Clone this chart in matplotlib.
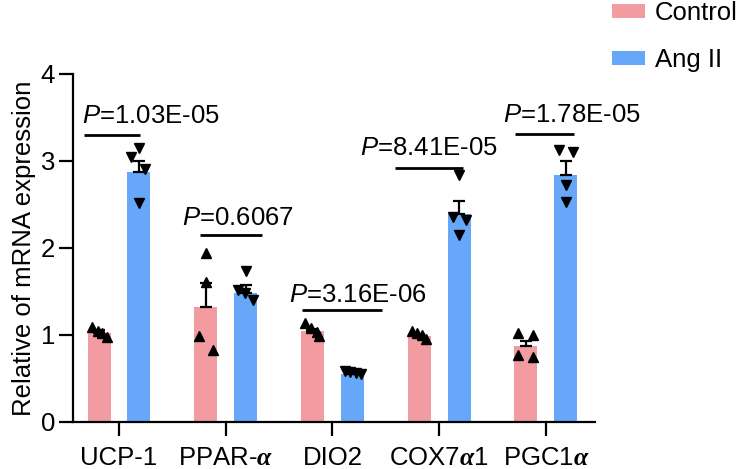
import matplotlib
matplotlib.use("Agg")
import matplotlib.pyplot as plt
from matplotlib.patches import Patch
import numpy as np

plt.rcParams['font.family'] = ['Liberation Sans', 'DejaVu Sans']
plt.rcParams['mathtext.fontset'] = 'custom'
plt.rcParams['mathtext.rm'] = 'Liberation Sans'
plt.rcParams['mathtext.it'] = 'Liberation Sans:italic'
plt.rcParams['mathtext.bf'] = 'Liberation Serif:italic:bold'

# ---------------- data ----------------
genes = ['UCP-1', r'PPAR-$\mathbf{\alpha}$', 'DIO2', r'COX7$\mathbf{\alpha}$1', r'PGC1$\mathbf{\alpha}$']
groups = ['Control', 'Ang II']

control_mean = [1.02, 1.32, 1.04, 0.99, 0.875]
angii_mean = [2.87, 1.48, 0.55, 2.39, 2.84]
control_sem = [0.03, 0.28, 0.03, 0.02, 0.05]
angii_sem = [0.13, 0.09, 0.01, 0.15, 0.16]

control_points = [
    [1.09, 1.04, 1.02, 0.98],
    [1.94, 1.61, 0.99, 0.83],
    [1.13, 1.08, 1.03, 0.99],
    [1.04, 1.02, 1.00, 0.95],
    [1.02, 1.00, 0.77, 0.75],
]
angii_points = [
    [3.15, 3.05, 2.91, 2.52],
    [1.73, 1.52, 1.48, 1.40],
    [0.58, 0.57, 0.56, 0.55],
    [2.84, 2.36, 2.32, 2.15],
    [3.13, 3.10, 2.72, 2.53],
]

p_labels = ['1.03E-05', '0.6067', '3.16E-06', '8.41E-05', '1.78E-05']

# ---------------- styling / layout ----------------
c_ctrl = '#F29CA1'
c_ang = '#66A7FA'
bar_w = 0.215
off = 0.187

# jitter (in data units) of the individual points
ctrl_jit = [[-0.07, -0.01, 0.03, 0.07], [0.0, 0.0, -0.065, 0.065],
            [-0.07, -0.01, 0.04, 0.065], [-0.07, -0.02, 0.025, 0.065],
            [-0.07, 0.065, -0.07, 0.065]]
ang_jit = [[0.0, -0.075, 0.06, 0.0], [0.0, -0.075, -0.01, 0.065],
           [-0.07, -0.02, 0.03, 0.08], [0.0, -0.06, 0.065, 0.0],
           [-0.065, 0.065, 0.0, 0.0]]

# significance annotations: line x-extents, line y, text x, text baseline y
sig_x0 = [-0.325, 0.759, 1.711, 2.585, 3.710]
sig_x1 = [0.197, 1.337, 2.461, 3.222, 4.262]
sig_y = [3.298, 2.148, 1.285, 2.924, 3.304]
txt_x = [-0.349, 0.587, 1.595, 2.258, 3.594]
txt_y = [3.433, 2.263, 1.380, 3.068, 3.451]

FS = 18.5

fig = plt.figure(figsize=(7.4, 4.69), dpi=100)
ax = fig.add_axes([73/740, 1-421.7/469, (595-73)/740, (421.7-74)/469])

x = np.arange(len(genes))
ax.bar(x - off, control_mean, width=bar_w, color=c_ctrl, zorder=1, linewidth=0)
ax.bar(x + off, angii_mean, width=bar_w, color=c_ang, zorder=1, linewidth=0)

ax.errorbar(x - off, control_mean, yerr=[np.zeros(len(x)), control_sem], fmt='none',
            ecolor='black', elinewidth=1.6, capsize=4, capthick=1.6, zorder=2)
ax.errorbar(x + off, angii_mean, yerr=[np.zeros(len(x)), angii_sem], fmt='none',
            ecolor='black', elinewidth=1.6, capsize=4, capthick=1.6, zorder=2)

for i in range(len(genes)):
    ax.plot(x[i] - off + np.array(ctrl_jit[i]), control_points[i], linestyle='none',
            marker='^', ms=7.8, color='black', zorder=3, clip_on=False)
    ax.plot(x[i] + off + np.array(ang_jit[i]), angii_points[i], linestyle='none',
            marker='v', ms=7.8, color='black', zorder=3, clip_on=False)
    ax.plot([sig_x0[i], sig_x1[i]], [sig_y[i], sig_y[i]], color='black', lw=2.0,
            solid_capstyle='butt', clip_on=False)
    ax.text(txt_x[i], txt_y[i], r'$P$=' + p_labels[i], fontsize=FS, ha='left',
            va='baseline', clip_on=False)

ax.set_xlim(-0.431, 4.46)
ax.set_ylim(0, 4)
ax.set_yticks([0, 1, 2, 3, 4])
ax.set_xticks(x)
ax.set_xticklabels(genes)
ax.set_ylabel('Relative of mRNA expression', fontsize=FS, labelpad=3)

for s in ['top', 'right']:
    ax.spines[s].set_visible(False)
for s in ['left', 'bottom']:
    ax.spines[s].set_linewidth(1.6)
ax.tick_params(axis='both', direction='out', length=10, width=1.6, labelsize=FS)
ax.tick_params(axis='y', pad=3)
ax.tick_params(axis='x', pad=7.5)

handles = [Patch(facecolor=c_ctrl, edgecolor='none'), Patch(facecolor=c_ang, edgecolor='none')]
fig.legend(handles, groups, loc='upper left', bbox_to_anchor=(612/740, 0.998),
           frameon=False, fontsize=FS, borderpad=0, borderaxespad=0,
           handlelength=1.3, handleheight=0.45, handletextpad=0.38, labelspacing=0.9)

fig.savefig('out.png', dpi=100)
